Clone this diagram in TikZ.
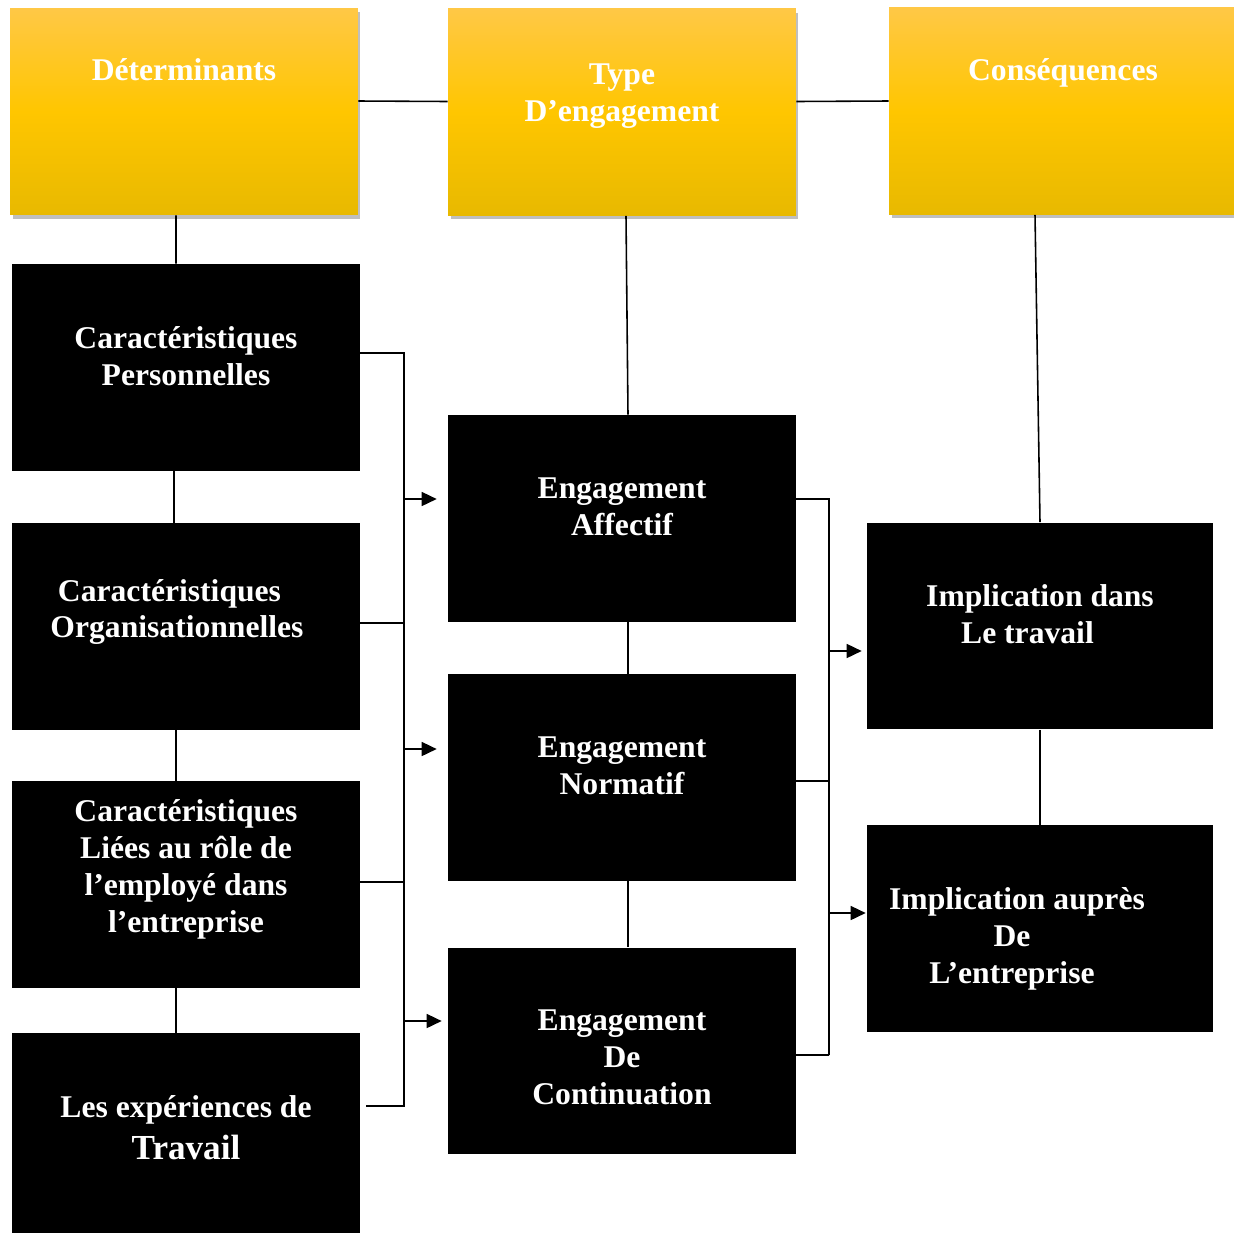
\documentclass[tikz,border=0pt]{standalone}
\usepackage{fontspec}
\setmainfont{Liberation Serif}
\usetikzlibrary{arrows.meta,shadows}
\definecolor{hdtop}{RGB}{255,200,70}
\definecolor{hdmid}{RGB}{255,198,0}
\definecolor{hdbot}{RGB}{232,185,0}

\begin{document}
\begin{tikzpicture}[x=0.02cm, y=-0.02cm,
  hd/.style={rectangle, minimum width=6.96cm, minimum height=4.14cm, inner sep=0pt,
             top color=hdtop, bottom color=hdbot, middle color=hdmid,
             drop shadow={shadow xshift=0.05cm, shadow yshift=-0.08cm, fill=black, opacity=0.25}},
  blk/.style={rectangle, fill=black, minimum width=6.96cm, minimum height=4.14cm, inner sep=0pt},
  txt/.style={text=white, align=center, font=\bfseries\fontsize{18}{21}\selectfont},
  ln/.style={line width=0.9pt},
  arr/.style={-{Triangle[length=0.3cm, width=0.28cm]}, line width=0.9pt}]

\useasboundingbox[fill=white] (0,0) rectangle (1234,1234);

% headers
\node[hd, label={[txt, yshift=0.83cm]center:D\'eterminants}] (det) at (184,111.5) {};
\node[hd, label={[txt, yshift=0.31cm]center:{Type\\D’engagement}}] (typ) at (622,112) {};
\node[hd, label={[txt, yshift=0.76cm]center:Cons\'equences}] (cons) at (1063,111) {};

% determinants
\node[blk, label={[txt, yshift=0.23cm]center:{Caract\'eristiques\\Personnelles}}] (cp) at (186,367.5) {};
\node[blk, label={[txt, xshift=-0.18cm, yshift=0.29cm]center:{Caract\'eristiques\hspace*{0.3cm}\\Organisationnelles}}] (co) at (186,626.5) {};
\node[blk, label={[txt, yshift=0.3cm]center:{Caract\'eristiques\\Li\'ees au r\^ole de\\l’employ\'e dans\\l’entreprise}}] (cl) at (186,884.5) {};
\node[blk, minimum height=4cm, label={[txt, yshift=0.11cm]center:{Les exp\'eriences de\\[3pt]{\fontsize{20}{24}\selectfont Travail}}}] (ex) at (186,1133) {};

% types
\node[blk, label={[txt, yshift=0.23cm]center:{Engagement\\Affectif}}] (ea) at (622,518.5) {};
\node[blk, label={[txt, yshift=0.23cm]center:{Engagement\\Normatif}}] (en) at (622,777.5) {};
\node[blk, label={[txt, yshift=-0.13cm]center:{Engagement\\De\\Continuation}}] (ec) at (622,1051) {};

% consequences
\node[blk, minimum width=6.92cm, label={[txt, yshift=0.23cm]center:{Implication dans\\Le travail\hspace*{0.5cm}}}] (id) at (1040,626) {};
\node[blk, minimum width=6.92cm, label={[txt, xshift=-0.46cm, yshift=-0.2cm]center:{Implication aupr\`es\\De\hspace*{0.2cm}\mbox{}\\L’entreprise\hspace*{0.2cm}}}] (ia) at (1040,928.5) {};

% columns
\draw[ln] ([yshift=0.21cm]det.east) -- ([yshift=0.21cm]typ.west);
\draw[ln] ([yshift=0.21cm]typ.east) -- ([yshift=0.2cm]cons.west);
\draw[ln] ([xshift=-0.16cm]det.south) -- ([xshift=-0.2cm]cp.north);
\draw[ln] ([xshift=-0.24cm]cp.south) -- ([xshift=-0.24cm]co.north);
\draw[ln] ([xshift=-0.2cm]co.south) -- ([xshift=-0.2cm]cl.north);
\draw[ln] ([xshift=-0.2cm]cl.south) -- ([xshift=-0.2cm]ex.north);
\draw[ln] ([xshift=0.08cm]typ.south) -- ([xshift=0.12cm]ea.north);
\draw[ln] ([xshift=0.12cm]ea.south) -- ([xshift=0.12cm]en.north);
\draw[ln] ([xshift=0.12cm]en.south) -- ([xshift=0.12cm]ec.north);
\draw[ln] ([xshift=-0.56cm]cons.south) -- (id.north);
\draw[ln] (id.south) -- (ia.north);

% left bus
\coordinate (lbb) at (404,1106);
\draw[ln] ([yshift=0.29cm]cp.east) -| (lbb);
\draw[ln] ([yshift=0.07cm]co.east) -| (lbb);
\draw[ln] ([yshift=0.05cm]cl.east) -| (lbb);
\draw[ln] ([xshift=0.12cm, yshift=0.54cm]ex.east) -| (lbb);
\coordinate (a1) at ([xshift=-0.22cm, yshift=0.39cm]ea.west);
\coordinate (a2) at ([xshift=-0.22cm, yshift=0.57cm]en.west);
\coordinate (a3) at ([xshift=-0.12cm, yshift=0.6cm]ec.west);
\draw[arr] (a1 -| lbb) -- (a1);
\draw[arr] (a2 -| lbb) -- (a2);
\draw[arr] (a3 -| lbb) -- (a3);

% right bus
\coordinate (rbb) at (829,1055);
\draw[ln] ([yshift=0.39cm]ea.east) -| (rbb);
\draw[ln] ([yshift=-0.07cm]en.east) -| (rbb);
\draw[ln] ([yshift=-0.08cm]ec.east) -| (rbb);
\coordinate (b1) at ([xshift=-0.1cm, yshift=-0.5cm]id.west);
\coordinate (b2) at ([xshift=-0.02cm, yshift=0.31cm]ia.west);
\draw[arr] (b1 -| rbb) -- (b1);
\draw[arr] (b2 -| rbb) -- (b2);
\end{tikzpicture}
\end{document}
